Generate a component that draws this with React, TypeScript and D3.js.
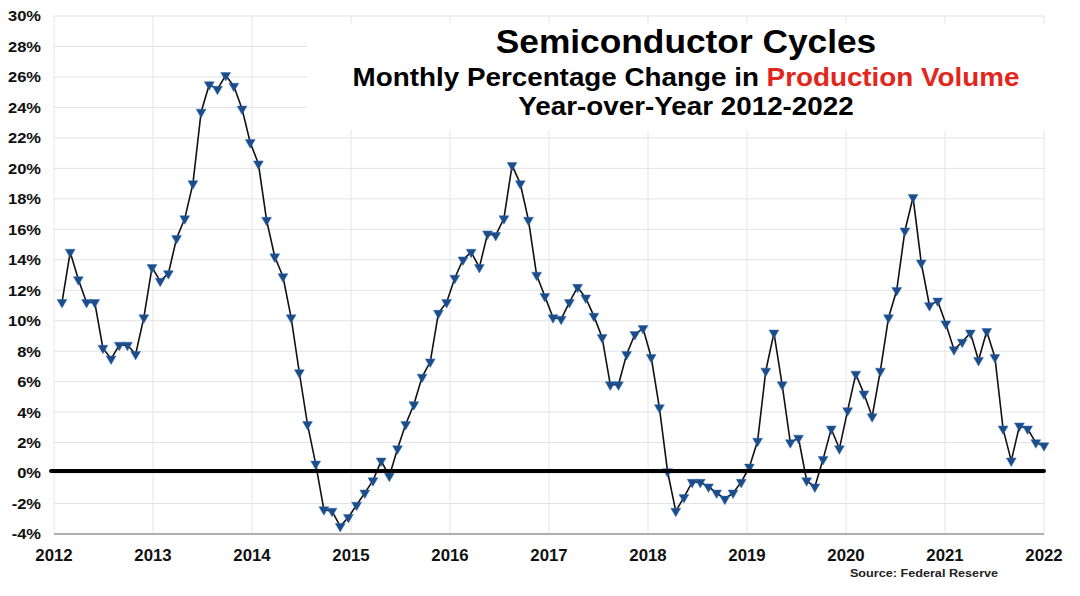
import * as d3 from 'd3';
import React from 'react';

// year axis labels and percent ticks
const yearLabels = [2012, 2013, 2014, 2015, 2016, 2017, 2018, 2019, 2020, 2021, 2022];
const percentTicks = [-4, -2, 0, 2, 4, 6, 8, 10, 12, 14, 16, 18, 20, 22, 24, 26, 28, 30];

// YoY % change in semiconductor production volume, monthly, Jan 2012 .. Jan 2022
const yoyChange = [
  11.2, 14.5, 12.7, 11.2, 11.2, 8.2, 7.5, 8.4, 8.4, 7.8, 10.2, 13.5,
  12.6, 13.1, 15.4, 16.7, 19.0, 23.7, 25.5, 25.2, 26.1, 25.4, 23.9, 21.7,
  20.3, 16.6, 14.2, 12.9, 10.2, 6.6, 3.2, 0.6, -2.4, -2.5, -3.5, -2.9,
  -2.1, -1.3, -0.5, 0.8, -0.2, 1.6, 3.2, 4.5, 6.3, 7.3, 10.5, 11.2,
  12.8, 14.0, 14.5, 13.5, 15.7, 15.6, 16.7, 20.2, 19.0, 16.6, 13.0, 11.6,
  10.2, 10.1, 11.2, 12.2, 11.5, 10.3, 8.9, 5.8, 5.8, 7.8, 9.1, 9.5,
  7.6, 4.3, 0.1, -2.5, -1.6, -0.6, -0.6, -0.9, -1.3, -1.7, -1.3, -0.6,
  0.4, 2.1, 6.7, 9.2, 5.8, 2.0, 2.3, -0.5, -0.9, 0.9, 2.9, 1.6,
  4.1, 6.5, 5.2, 3.7, 6.7, 10.2, 12.0, 15.9, 18.1, 13.8, 11.0, 11.3,
  9.8, 8.1, 8.6, 9.2, 7.4, 9.3, 7.6, 2.9, 0.8, 3.1, 2.9, 2.0,
  1.8,
];

const W = 1080;
const H = 596;
const FONT = "'Liberation Sans', Arial, Helvetica, sans-serif";

const yearX = d3.scaleLinear().domain([2012, 2022]).range([54, 1044]);
const pointX = d3.scaleLinear().domain([0, yoyChange.length - 1]).range([62, 1044]);
const yScale = d3.scaleLinear().domain([-4, 30]).range([534, 16]);

const lineGen = d3
  .line<number>()
  .x((d, i) => pointX(i))
  .y((d) => yScale(d));

const marker = d3.symbol().type(d3.symbolTriangle).size(42)();

const Stretch = ({ x, y, sx, children, ...rest }: any) => (
  <text transform={`translate(${x},${y}) scale(${sx},1)`} {...rest}>
    {children}
  </text>
);

const App = () => {
  const [x0, x1] = yearX.range();
  const [yBottom, yTop] = yScale.range();

  return (
    <div style={{ position: 'absolute', left: 0, top: 0 }}>
      <svg width={W} height={H} style={{ display: 'block', background: '#fff' }} fontFamily={FONT}>
        {/* grid */}
        {percentTicks.map((t) => (
          <line key={'h' + t} x1={x0} x2={x1} y1={yScale(t)} y2={yScale(t)} stroke="#e2e2e2" strokeWidth={1} />
        ))}
        {yearLabels.map((yr) => (
          <line key={'v' + yr} x1={yearX(yr)} x2={yearX(yr)} y1={yTop} y2={yBottom} stroke="#e6e6e6" strokeWidth={1} />
        ))}
        <line x1={x0} x2={x1} y1={yBottom} y2={yBottom} stroke="#9a9a9a" strokeWidth={1.5} />

        {/* title panel hides the grid behind it */}
        <rect x={307} y={24} width={745} height={106} fill="#fff" />

        {/* y labels */}
        {percentTicks.map((t) => (
          <Stretch key={'yl' + t} x={41} y={yScale(t)} sx={1.1} dy="0.36em" textAnchor="end" fontSize={15} fontWeight="bold" fill="#111">
            {t + '%'}
          </Stretch>
        ))}
        {/* x labels */}
        {yearLabels.map((yr) => (
          <Stretch key={'xl' + yr} x={yearX(yr)} y={561} sx={1.05} textAnchor="middle" fontSize={16} fontWeight="bold" fill="#111">
            {yr}
          </Stretch>
        ))}

        {/* series */}
        <path d={lineGen(yoyChange) || ''} fill="none" stroke="#111" strokeWidth={1.6} />
        {yoyChange.map((v, i) => (
          <path key={'m' + i} d={marker} transform={`translate(${pointX(i)},${yScale(v)}) rotate(180)`} fill="#1c4d8a" stroke="#2f6db3" strokeWidth={0.5} />
        ))}

        {/* zero line, drawn a touch above 0 like the original */}
        <line x1={x0 - 3} x2={x1} y1={yScale(0) - 2} y2={yScale(0) - 2} stroke="#000" strokeWidth={4} strokeLinecap="round" />

        {/* titles */}
        <Stretch x={686} y={53} sx={1.07} textAnchor="middle" fontSize={33} fontWeight="bold" fill="#000">
          Semiconductor Cycles
        </Stretch>
        <Stretch x={686} y={86} sx={1.07} textAnchor="middle" fontSize={26} fontWeight="bold" fill="#000">
          Monthly Percentage Change in <tspan fill="#e3261c">Production Volume</tspan>
        </Stretch>
        <Stretch x={686} y={115} sx={1.07} textAnchor="middle" fontSize={26} fontWeight="bold" fill="#000">
          Year-over-Year 2012-2022
        </Stretch>

        <Stretch x={924} y={577} sx={1.1} textAnchor="middle" fontSize={11.5} fontWeight="bold" fill="#222">
          Source: Federal Reserve
        </Stretch>
      </svg>
    </div>
  );
};

export default App;
